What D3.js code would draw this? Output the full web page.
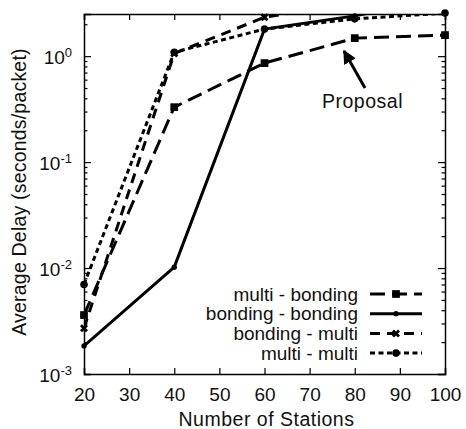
<!DOCTYPE html>
<html>
<head>
<meta charset="utf-8">
<script src="https://cdn.jsdelivr.net/npm/d3@7"></script>
<style>
  body { margin: 0; background: #fff; }
  text { font-family: "Liberation Sans", Arial, sans-serif; fill: #111; }
</style>
</head>
<body>
<script>
let margin = { top: 14, right: 21, bottom: 55, left: 84 };
let width = 466;
let height = 429;

// data
const stations = [20, 40, 60, 80, 100];
const multiBonding = [0.0036, 0.33, 0.86, 1.48, 1.58];
const bondingBonding = [0.00184, 0.0102, 1.8, 2.4, 3.5];
const bondingMulti = [0.0027, 1.06, 2.33, 3.2, 3.6];
const multiMulti = [0.007, 1.09, 1.8, 2.25, 2.55];
const xTicks = [20, 30, 40, 50, 60, 70, 80, 90, 100];
const yExponents = [-3, -2, -1, 0];

const series = [
  { name: 'multi - bonding', values: multiBonding, dash: '15,7', symbol: d3.symbolSquare, size: 60 },
  { name: 'bonding - bonding', values: bondingBonding, dash: null, symbol: d3.symbolCircle, size: 22 },
  { name: 'bonding - multi', values: bondingMulti, dash: '10,7', symbol: d3.symbolCross, size: 40 },
  { name: 'multi - multi', values: multiMulti, dash: '5,3.5', symbol: d3.symbolCircle, size: 45 },
];

// scales
let x = d3.scaleLinear().domain([20, 100]).range([margin.left, width - margin.right]);
let y = d3.scaleLog().domain([1e-3, 2.5]).range([height - margin.bottom, margin.top]);

const svg = d3.select('body').append('svg')
  .attr('width', width)
  .attr('height', height);

svg.append('defs').append('clipPath').attr('id', 'clip')
  .append('rect')
  .attr('x', margin.left).attr('y', margin.top)
  .attr('width', width - margin.left - margin.right)
  .attr('height', height - margin.top - margin.bottom);

// minor ticks for the log axis
const minor = [];
yExponents.forEach(e => { for (let k = 2; k <= 9; k++) { const v = k * Math.pow(10, e); if (v <= 2.5) minor.push(v); } });

// axes (ticks inside)
svg.append('g')
  .attr('transform', `translate(0, ${height - margin.bottom})`)
  .call(d3.axisBottom(x).tickValues(xTicks).tickSize(-6).tickFormat(d3.format('d')))
  .call(g => g.selectAll('.tick text').attr('font-size', 19).attr('y', 27).attr('dy', 0));
svg.append('g')
  .attr('transform', `translate(0, ${margin.top})`)
  .call(d3.axisTop(x).tickValues(xTicks).tickSize(-6).tickFormat(''));

const yMajor = yExponents.map(e => Math.pow(10, e));
svg.append('g')
  .attr('transform', `translate(${margin.left}, 0)`)
  .call(d3.axisLeft(y).tickValues(yMajor).tickSize(-7).tickPadding(12).tickFormat(''))
  .call(g => g.selectAll('.tick text')
    .data(yExponents)
    .attr('font-size', 19)
    .attr('dy', '0.38em')
    .each(function (e) {
      const t = d3.select(this);
      t.append('tspan').text('10');
      t.append('tspan').attr('dy', '-0.55em').attr('font-size', 13).text(e);
    }));
svg.append('g')
  .attr('transform', `translate(${margin.left}, 0)`)
  .call(d3.axisLeft(y).tickValues(minor).tickSize(-3.5).tickFormat(''))
  .call(g => g.select('.domain').remove());
svg.append('g')
  .attr('transform', `translate(${width - margin.right}, 0)`)
  .call(d3.axisRight(y).tickValues(yMajor).tickSize(-7).tickFormat(''));
svg.append('g')
  .attr('transform', `translate(${width - margin.right}, 0)`)
  .call(d3.axisRight(y).tickValues(minor).tickSize(-3.5).tickFormat(''))
  .call(g => g.select('.domain').remove());

svg.selectAll('.domain').attr('stroke', '#000').attr('stroke-width', 1.5);
svg.selectAll('.tick line').attr('stroke', '#000').attr('stroke-width', 1.2);

// axis titles
svg.append('text')
  .attr('x', (margin.left + width - margin.right) / 2 + 2)
  .attr('y', 426)
  .attr('text-anchor', 'middle')
  .attr('font-size', 19.5)
  .attr('letter-spacing', 0.5)
  .text('Number of Stations');
svg.append('text')
  .attr('transform', `translate(26, ${(margin.top + height - margin.bottom) / 2 - 2}) rotate(-90)`)
  .attr('text-anchor', 'middle')
  .attr('font-size', 19.5)
  .attr('letter-spacing', 0.2)
  .text('Average Delay (seconds/packet)');

// lines (clipped at the frame) and points
const line = d3.line().x((d, i) => x(stations[i])).y(d => y(d));
const plot = svg.append('g').attr('clip-path', 'url(#clip)');
const pts = svg.append('g');

series.forEach(s => {
  plot.append('path')
    .datum(s.values)
    .attr('fill', 'none')
    .attr('stroke', '#000')
    .attr('stroke-width', 3)
    .attr('stroke-dasharray', s.dash)
    .attr('d', line);
  pts.selectAll(null)
    .data(s.values.map((v, i) => ({ v, i })).filter(d => d.v <= 2.6))
    .enter().append('path')
    .attr('transform', d => `translate(${x(stations[d.i])}, ${y(d.v)})` + (s.symbol === d3.symbolCross ? ' rotate(45)' : ''))
    .attr('d', d3.symbol(s.symbol, s.size))
    .attr('fill', '#000');
});

// legend
const legend = svg.append('g');
series.forEach((s, i) => {
  const ly = 294 + i * 19.7;
  legend.append('text')
    .attr('x', 358).attr('y', ly)
    .attr('dy', '0.35em')
    .attr('text-anchor', 'end')
    .attr('font-size', 19)
    .text(s.name);
  legend.append('line')
    .attr('x1', 370).attr('x2', 422)
    .attr('y1', ly).attr('y2', ly)
    .attr('stroke', '#000')
    .attr('stroke-width', 3)
    .attr('stroke-dasharray', s.dash);
  legend.append('path')
    .attr('transform', `translate(396, ${ly})` + (s.symbol === d3.symbolCross ? ' rotate(45)' : ''))
    .attr('d', d3.symbol(s.symbol, s.size))
    .attr('fill', '#000');
});

// annotation
svg.append('defs').append('marker')
  .attr('id', 'arrow')
  .attr('viewBox', '0 0 10 10')
  .attr('refX', 9).attr('refY', 5)
  .attr('markerWidth', 4.5).attr('markerHeight', 4.5)
  .attr('orient', 'auto')
  .append('path').attr('d', 'M0,0L10,5L0,10z').attr('fill', '#000');
svg.append('line')
  .attr('x1', 365).attr('y1', 88)
  .attr('x2', 344).attr('y2', 51)
  .attr('stroke', '#000')
  .attr('stroke-width', 3)
  .attr('marker-end', 'url(#arrow)');
svg.append('text')
  .attr('x', 322).attr('y', 108)
  .attr('font-size', 19.5)
  .attr('letter-spacing', 0.5)
  .text('Proposal');
</script>
</body>
</html>
